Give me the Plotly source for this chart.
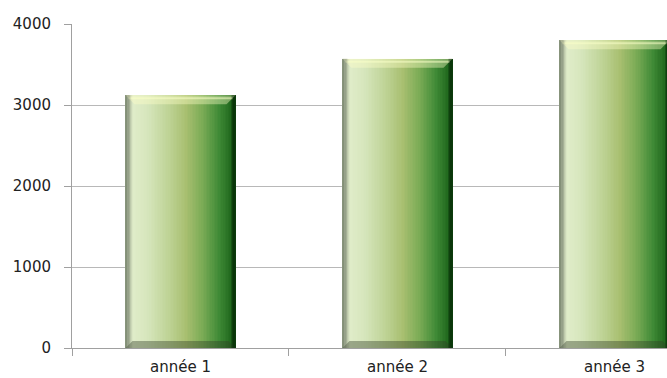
import plotly.graph_objects as go

# Chart data
categories = ["année 1", "année 2", "année 3"]
values = [3120, 3570, 3800]
y_ticks = [0, 1000, 2000, 3000, 4000]

# Layout geometry (pixels)
W, H = 667, 378
M_LEFT, M_TOP, M_BOTTOM, M_RIGHT = 72, 24, 30, 0
X_MIN, X_MAX = -0.5, 2.242          # last category runs off the right edge
BAR_W = 0.507                        # bar width in category units
PX_PER_UNIT = (W - M_LEFT - M_RIGHT) / (X_MAX - X_MIN)
N_SLICES = 70

# Horizontal colour ramp across each bar (left -> right)
stops = [
    (0.00, (125, 138, 114)),
    (0.03, (184, 196, 168)),
    (0.07, (224, 236, 201)),
    (0.20, (214, 230, 188)),
    (0.40, (189, 210, 148)),
    (0.55, (168, 191, 112)),
    (0.70, (122, 171, 85)),
    (0.85, (63, 138, 54)),
    (0.95, (35, 107, 31)),
    (1.00, (12, 58, 12)),
]


def ramp(t):
    for (p0, c0), (p1, c1) in zip(stops[:-1], stops[1:]):
        if t <= p1:
            f = (t - p0) / (p1 - p0) if p1 > p0 else 0
            c = [round(a + (b - a) * f) for a, b in zip(c0, c1)]
            return "rgb({},{},{})".format(*c)
    return "rgb({},{},{})".format(*stops[-1][1])


fig = go.Figure()

# Each bar is drawn as a row of thin vertical slices that share the bar's value
slice_w = BAR_W / N_SLICES
for k in range(N_SLICES):
    t = (k + 0.5) / N_SLICES
    w = slice_w * (1.6 if k < N_SLICES - 1 else 1.0)
    fig.add_trace(go.Bar(
        x=categories,
        y=values,
        offset=-BAR_W / 2 + k * slice_w,
        width=w,
        marker=dict(color=ramp(t), line=dict(width=0)),
        hoverinfo="skip",
        showlegend=False,
    ))

# Bevel overlays drawn on a hidden linear axis aligned with the category axis
shapes = []
d = 1.0 / PX_PER_UNIT   # one pixel in data units
TOP, BOT, RIGHT, LEFT = 9, 7, 4, 5
for i, v in enumerate(values):
    x0, x1 = i - BAR_W / 2, i + BAR_W / 2
    # top bevel (light)
    shapes.append(dict(
        type="path", xref="x2", yref="y", ysizemode="pixel", yanchor=v,
        path=f"M{x0},0 L{x1},0 L{x1 - TOP * d},{-TOP} L{x0 + TOP * d},{-TOP} Z",
        fillcolor="rgba(255,255,200,0.40)", line=dict(width=0), layer="above",
    ))
    # highlight line along the top bevel
    shapes.append(dict(
        type="path", xref="x2", yref="y", ysizemode="pixel", yanchor=v,
        path=f"M{x0 + 3 * d},{-3} L{x1 - 3 * d},{-3}",
        line=dict(color="rgba(250,255,200,0.55)", width=2), layer="above",
    ))
    # bottom bevel (dark)
    shapes.append(dict(
        type="path", xref="x2", yref="y", ysizemode="pixel", yanchor=0,
        path=f"M{x0},0 L{x1},0 L{x1 - BOT * d},{BOT} L{x0 + BOT * d},{BOT} Z",
        fillcolor="rgba(50,62,40,0.40)", line=dict(width=0), layer="above",
    ))
    # right bevel (dark)
    shapes.append(dict(
        type="rect", xref="x2", yref="y",
        x0=x1 - RIGHT * d, x1=x1, y0=0, y1=v,
        fillcolor="rgba(0,30,0,0.30)", line=dict(width=0), layer="above",
    ))
    # left bevel (grey)
    shapes.append(dict(
        type="rect", xref="x2", yref="y",
        x0=x0, x1=x0 + LEFT * d, y0=0, y1=v,
        fillcolor="rgba(120,128,110,0.35)", line=dict(width=0), layer="above",
    ))

font = dict(family="DejaVu Sans", size=15, color="#222222")

fig.update_layout(
    width=W, height=H,
    margin=dict(l=M_LEFT, r=M_RIGHT, t=M_TOP, b=M_BOTTOM, pad=0),
    paper_bgcolor="white", plot_bgcolor="white",
    barmode="overlay", bargap=0,
    showlegend=False,
    font=font,
    shapes=shapes,
    xaxis=dict(
        type="category", range=[X_MIN, X_MAX], automargin=False,
        tickson="boundaries", ticks="outside", ticklen=7, tickcolor="#a0a0a0",
        showline=True, linecolor="#a0a0a0", linewidth=1,
        showgrid=False, zeroline=False,
        tickfont=font,
        ticklabelstandoff=5,
    ),
    xaxis2=dict(
        type="linear", range=[X_MIN, X_MAX], overlaying="x",
        visible=False, showgrid=False, zeroline=False,
    ),
    yaxis=dict(
        range=[0, 4000], tickvals=y_ticks, ticks="outside", ticklen=7,
        automargin=False,
        tickcolor="#a0a0a0", showline=True, linecolor="#a0a0a0", linewidth=1,
        showgrid=True, gridcolor="#b8b8b8", gridwidth=1, zeroline=False,
        tickfont=font, ticklabelstandoff=10,
    ),
)

fig.write_html("out.html")
